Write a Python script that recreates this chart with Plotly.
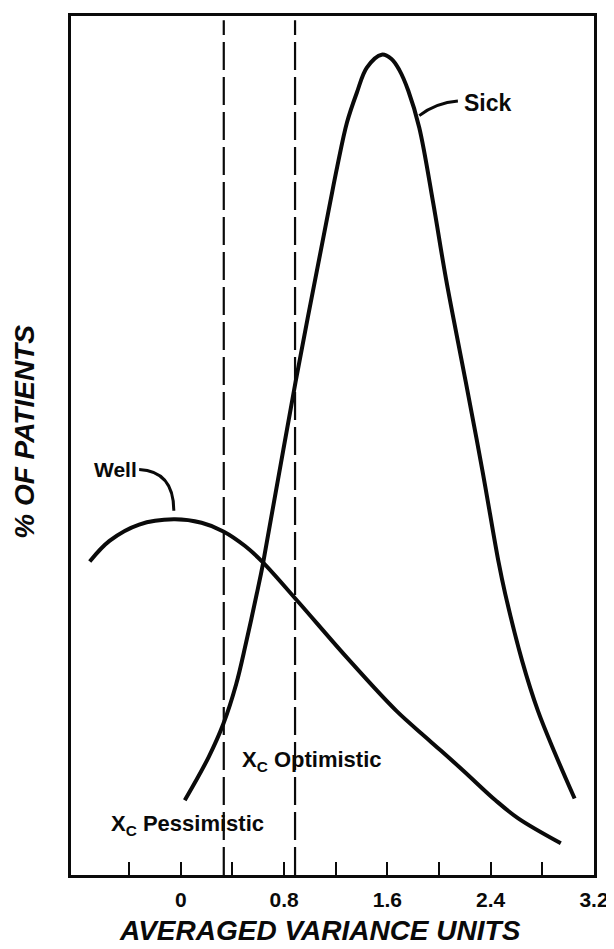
import plotly.graph_objects as go

# ---- data ----
sick_x = [0.031, 0.215, 0.330, 0.429, 0.505, 0.598, 0.636, 0.889, 1.157, 1.211, 1.287, 1.364,
          1.441, 1.556, 1.632, 1.693, 1.762, 1.847, 1.954, 2.054, 2.207, 2.337, 2.460, 2.513,
          2.644, 2.766, 2.897, 3.050]
sick_y = [8.7, 13.7, 17.6, 22.2, 27.0, 33.4, 36.2, 57.4, 78.3, 82.4, 87.6, 91.1,
          94.0, 95.5, 95.0, 93.7, 91.3, 87.0, 78.3, 69.4, 57.4, 47.0, 36.5, 32.7,
          24.9, 19.1, 14.2, 8.9]

well_x = [-0.705, -0.552, -0.322, -0.054, 0.161, 0.330, 0.498, 0.636, 0.904, 1.287, 1.670,
          1.923, 2.184, 2.437, 2.613, 2.943]
well_y = [36.5, 38.9, 40.8, 41.4, 41.0, 40.0, 38.3, 36.4, 31.9, 25.3, 19.1,
          15.7, 12.2, 8.7, 6.6, 3.7]

cutoff_names = ["Pessimistic", "Optimistic"]
cutoff_x = [0.333, 0.885]

label_vals = [0.0, 0.8, 1.6, 2.4, 3.2]
label_text = ["0", "0.8", "1.6", "2.4", "3.2"]
minor_vals = [-0.4, 0.4, 1.2, 2.0, 2.8]

x_title = "AVERAGED VARIANCE UNITS"
y_title = "% OF PATIENTS"

FONT = "Liberation Sans, Arial, sans-serif"
INK = "#0a0a0a"

fig = go.Figure()

fig.add_trace(go.Scatter(x=sick_x, y=sick_y, mode="lines", name="Sick",
                         line=dict(color=INK, width=4, shape="spline", smoothing=1.0),
                         hoverinfo="skip"))
fig.add_trace(go.Scatter(x=well_x, y=well_y, mode="lines", name="Well",
                         line=dict(color=INK, width=4, shape="spline", smoothing=1.0),
                         hoverinfo="skip"))

for cx in cutoff_x:
    fig.add_shape(type="line", xref="x", yref="y", x0=cx, x1=cx, y0=0, y1=99.5,
                  line=dict(color=INK, width=2.2, dash="28px,7px"))

# leader lines
fig.add_shape(type="path", xref="x", yref="y",
              path="M 2.146,90.1 Q 1.977,89.9 1.847,88.4",
              line=dict(color=INK, width=3))
fig.add_shape(type="path", xref="x", yref="y",
              path="M -0.322,47.2 Q -0.054,47.0 -0.054,42.4",
              line=dict(color=INK, width=3))

labels = [
    ("<b>Sick</b>", 2.176, 89.9, 23),
    ("<b>Well</b>", -0.69, 47.2, 21),
    ("<b>X<sub>C</sub> Optimistic</b>", 0.46, 13.3, 22),
    ("<b>X<sub>C</sub> Pessimistic</b>", -0.559, 5.8, 22),
]
for txt, lx, ly, fs in labels:
    fig.add_annotation(x=lx, y=ly, xref="x", yref="y", text=txt, showarrow=False,
                       xanchor="left", yanchor="middle",
                       font=dict(family=FONT, size=fs, color=INK))

# axis titles
fig.add_annotation(x=0.477, y=0, xref="paper", yref="paper", yshift=-73,
                   text="<b><i>" + x_title + "</i></b>", showarrow=False,
                   xanchor="center", yanchor="bottom",
                   font=dict(family=FONT, size=28, color=INK))
fig.add_annotation(x=0, y=0.516, xref="paper", yref="paper", xshift=-46,
                   text="<b><i>" + y_title + "</i></b>", showarrow=False, textangle=-90,
                   xanchor="center", yanchor="middle",
                   font=dict(family=FONT, size=28, color=INK))

# the page body adds an 8px margin, so the figure is 8px smaller on each axis
fig.update_layout(
    width=606, height=941,
    margin=dict(l=63, r=15, t=5, b=74),
    paper_bgcolor="white", plot_bgcolor="white",
    showlegend=False,
    font=dict(family=FONT, color=INK),
)
fig.update_xaxes(range=[-0.85, 3.2], showgrid=False, zeroline=False,
                 showline=True, linecolor=INK, linewidth=2.5, mirror=True,
                 ticks="inside", ticklen=13, tickwidth=2, tickcolor=INK,
                 tickvals=label_vals, ticktext=label_text, ticklabelstandoff=4,
                 ticklabeloverflow="allow",
                 tickfont=dict(family=FONT, size=21, color=INK, weight="bold"),
                 minor=dict(tickvals=minor_vals, ticks="inside", ticklen=13,
                            tickwidth=2, tickcolor=INK, showgrid=False))
fig.update_yaxes(range=[0, 100], showgrid=False, zeroline=False,
                 showline=True, linecolor=INK, linewidth=2.5, mirror=True,
                 showticklabels=False, ticks="")

fig.write_html("out.html")
